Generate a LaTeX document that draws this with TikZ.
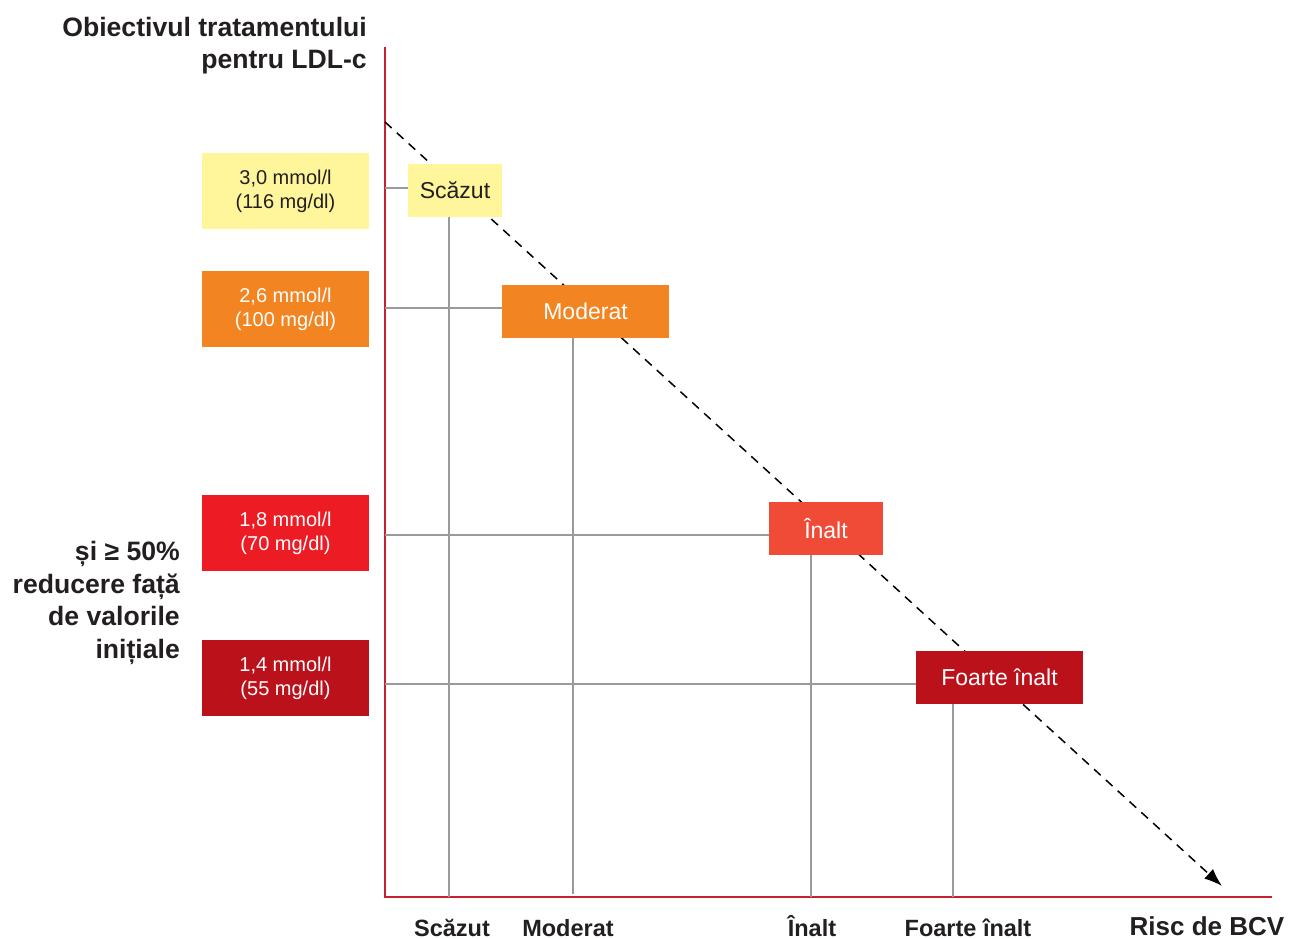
\documentclass[tikz,border=0pt]{standalone}
\usepackage{fontspec}
\setmainfont{Liberation Sans}
\usetikzlibrary{arrows.meta}
\definecolor{txt}{HTML}{231F20}
\definecolor{axisred}{HTML}{C8202F}
\definecolor{gridgray}{HTML}{9A9A9A}
\definecolor{lowc}{HTML}{FFF59B}
\definecolor{modc}{HTML}{F38422}
\definecolor{highc}{HTML}{ED1C24}
\definecolor{highr}{HTML}{F04B37}
\definecolor{vhighc}{HTML}{BB111B}
\tikzset{
  goalbox/.style={minimum width=167pt, minimum height=76pt, inner sep=0pt, align=center,
    font=\fontsize{20}{24}\selectfont, text=white},
  riskbox/.style={minimum height=53pt, inner sep=0pt, align=center,
    font=\fontsize{23}{26}\selectfont, text=white},
  heading/.style={font=\bfseries\fontsize{26.6}{32.5}\selectfont, text=txt, inner sep=0pt},
  axlabel/.style={font=\bfseries\fontsize{23.5}{28}\selectfont, text=txt, inner sep=0pt, anchor=base},
  grid/.style={draw=gridgray, line width=1.2pt},
}
\begin{document}
\begin{tikzpicture}[x=1pt,y=-1pt]
\useasboundingbox (0,0) rectangle (1290,939);

% axes
\coordinate (O) at (385,897);
\coordinate (ytop) at (385,47);
\coordinate (xend) at (1272,897);
\draw[axisred, line width=2pt] (ytop) -- (O) -- (xend);

% trend line
\coordinate (ds) at (385,122);
\coordinate (de) at (1222,886);
\draw[black, line width=1.5pt, dash pattern=on 9pt off 7pt,
  -{Latex[length=18pt,width=13pt]}] (ds) -- (de);

% axis anchor points for the grid lines
\coordinate (h1) at (385,188);
\coordinate (h2) at (385,308);
\coordinate (h3) at (385,535);
\coordinate (h4) at (385,684);
\coordinate (b1) at (449,897);
\coordinate (b2) at (573,894);
\coordinate (b3) at (811,897);
\coordinate (b4) at (953,897);

% risk category boxes
\node[riskbox, fill=lowc, text=txt, minimum width=94pt] (rlow) at (455,190.5) {Scăzut};
\node[riskbox, fill=modc, minimum width=167pt] (rmod) at (585.5,311.5) {Moderat};
\node[riskbox, fill=highr, minimum width=114pt] (rhigh) at (826,528.5) {Înalt};
\node[riskbox, fill=vhighc, minimum width=167pt] (rvhigh) at (999.5,677.5) {Foarte înalt};

% grid lines
\draw[grid] (h1) -- (h1 -| rlow.west);
\draw[grid] (h2) -- (h2 -| rmod.west);
\draw[grid] (h3) -- (h3 -| rhigh.west);
\draw[grid] (h4) -- (h4 -| rvhigh.west);
\draw[grid] (b1 |- rlow.south) -- (b1);
\draw[grid] (b2 |- rmod.south) -- (b2);
\draw[grid] (b3 |- rhigh.south) -- (b3);
\draw[grid] (b4 |- rvhigh.south) -- (b4);

% LDL-c goal boxes
\node[goalbox, fill=lowc, text=txt] (g1) at (285.5,191) {3,0 mmol/l\\(116 mg/dl)};
\node[goalbox, fill=modc] (g2) at (285.5,309) {2,6 mmol/l\\(100 mg/dl)};
\node[goalbox, fill=highc] (g3) at (285.5,533) {1,8 mmol/l\\(70 mg/dl)};
\node[goalbox, fill=vhighc] (g4) at (285.5,678) {1,4 mmol/l\\(55 mg/dl)};

% headings
\node[heading, align=right, anchor=north east] (title) at (367,17)
  {Obiectivul tratamentului\\pentru LDL-c};
\node[heading, align=right, anchor=east] (note) at (180,603)
  {și ≥ 50\%\\reducere față\\de valorile\\inițiale};

% x-axis labels
\node[axlabel] (xl1) at (452,936) {Scăzut};
\node[axlabel] (xl2) at (568,936) {Moderat};
\node[axlabel] (xl3) at (812,936) {Înalt};
\node[axlabel] (xl4) at (968,936) {Foarte înalt};
\node[axlabel, font=\bfseries\fontsize{26}{30}\selectfont] (xl5) at (1207,935.5) {Risc de BCV};
\end{tikzpicture}
\end{document}
